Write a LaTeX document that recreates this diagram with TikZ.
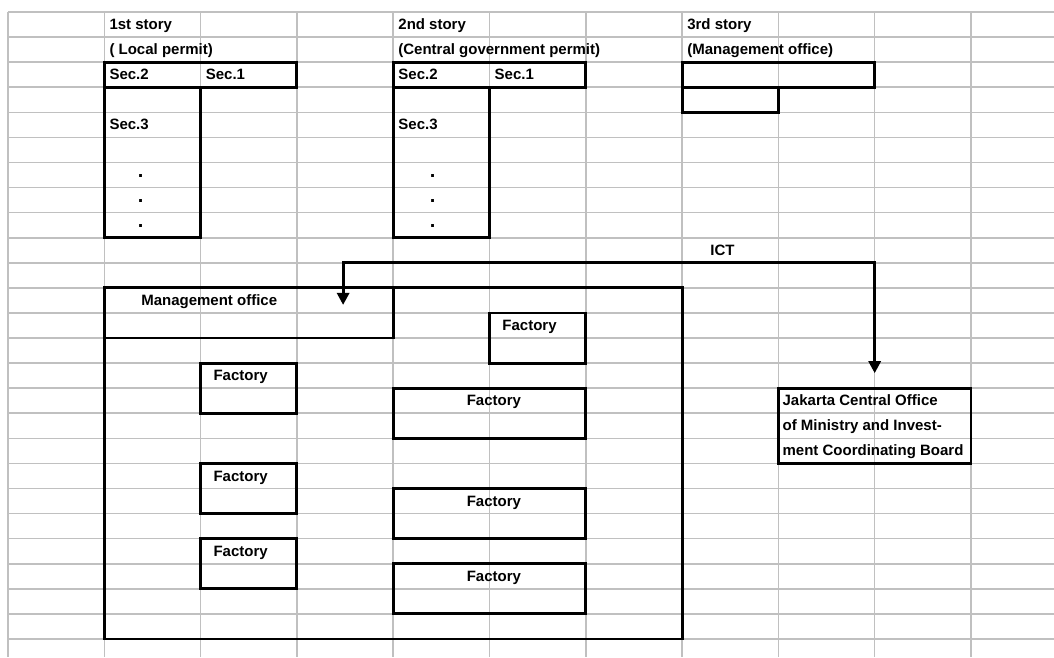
\documentclass[tikz,border=0pt]{standalone}
\usepackage{fontspec}
\setmainfont{Liberation Sans}
\usetikzlibrary{arrows.meta}

\definecolor{gridgray}{RGB}{192,192,192}

\tikzset{
  gridline/.style={gridgray, line width=0.8pt},
  frame/.style={black, line width=1.45pt, line cap=rect},
  cell/.style={anchor=base west, inner sep=0pt, font=\bfseries\fontsize{7.5pt}{9pt}\selectfont},
  dotcell/.style={cell, font=\bfseries\fontsize{10pt}{12pt}\selectfont},
  ict/.style={black, line width=1.45pt,
    {Triangle[length=6pt,width=6pt]}-{Triangle[length=6pt,width=6pt]}}
}

\begin{document}
\begin{tikzpicture}[x=48.15pt, y=-12.54pt]
  \useasboundingbox (-0.0831,-0.4785) rectangle (10.862,25.718);
  \fill[white] (-0.0831,-0.4785) rectangle (10.862,25.718);

  % sheet grid
  \foreach \c in {0,...,10}
    \draw[gridline] (\c,0) -- (\c,25.718);
  \foreach \r in {0,...,25}
    \draw[gridline] (0,\r) -- (10.862,\r);

  % story headers
  \node[cell] (story1) at (1.05,0.7) {1st story};
  \node[cell] (story2) at (4.05,0.7) {2nd story};
  \node[cell] (story3) at (7.05,0.7) {3rd story};
  \node[cell] (permit1) at (1.05,1.7) {( Local permit)};
  \node[cell] (permit2) at (4.05,1.7) {(Central government permit)};
  \node[cell] (permit3) at (7.05,1.7) {(Management office)};

  % sections, 1st story
  \draw[frame] (1,2) rectangle (3,3);
  \draw[frame] (1,3) rectangle (2,9);
  \node[cell] (secA2) at (1.05,2.7) {Sec.2};
  \node[cell] (secA1) at (2.05,2.7) {Sec.1};
  \node[cell] (secA3) at (1.05,4.7) {Sec.3};

  % sections, 2nd story
  \draw[frame] (4,2) rectangle (6,3);
  \draw[frame] (4,3) rectangle (5,9);
  \node[cell] (secB2) at (4.05,2.7) {Sec.2};
  \node[cell] (secB1) at (5.05,2.7) {Sec.1};
  \node[cell] (secB3) at (4.05,4.7) {Sec.3};

  \foreach \r in {6,7,8} {
    \node[dotcell] (dotA\r) at (1.345,\r+0.58) {.};
    \node[dotcell] (dotB\r) at (4.377,\r+0.58) {.};
  }

  % 3rd story
  \draw[frame] (7,2) rectangle (9,3);
  \draw[frame] (7,3) rectangle (8,4);

  % management office and factories
  \draw[frame] (1,11) rectangle (7,25);
  \draw[frame] (1,13) -| (4,11);
  \node[cell] (mgmt) at (1.38,11.7) {Management office};

  \draw[frame] (5,12) rectangle (6,14);
  \node[cell] (fac1) at (5.13,12.7) {Factory};
  \draw[frame] (2,14) rectangle (3,16);
  \node[cell] (fac2) at (2.13,14.7) {Factory};
  \draw[frame] (4,15) rectangle (6,17);
  \node[cell] (fac3) at (4.76,15.7) {Factory};
  \draw[frame] (2,18) rectangle (3,20);
  \node[cell] (fac4) at (2.13,18.7) {Factory};
  \draw[frame] (4,19) rectangle (6,21);
  \node[cell] (fac5) at (4.76,19.7) {Factory};
  \draw[frame] (2,21) rectangle (3,23);
  \node[cell] (fac6) at (2.13,21.7) {Factory};
  \draw[frame] (4,22) rectangle (6,24);
  \node[cell] (fac7) at (4.76,22.7) {Factory};

  % ministry in Jakarta
  \draw[frame] (8,15) rectangle (10,18);
  \node[cell] (jak1) at (8.04,15.7) {Jakarta Central Office};
  \node[cell] (jak2) at (8.04,16.7) {of Ministry and Invest-};
  \node[cell] (jak3) at (8.04,17.7) {ment Coordinating Board};

  % ICT link
  \coordinate (mgmt end) at (3.48,11.68);
  \coordinate (ict line) at (6,10);
  \coordinate (jakarta) at (9,15);
  \node[cell] (ict) at (7.29,9.7) {ICT};
  \draw[ict, shorten >=7.5pt] (mgmt end) |- (ict line) -| (jakarta);
\end{tikzpicture}
\end{document}
